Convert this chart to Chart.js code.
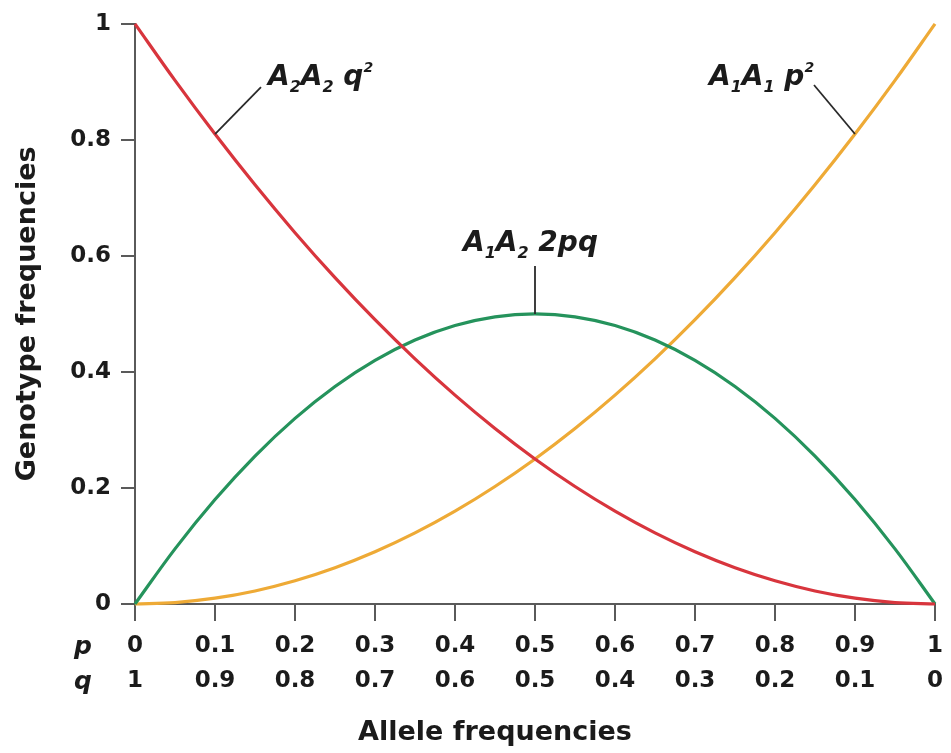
<!DOCTYPE html>
<html>
<head>
<meta charset="utf-8">
<script src="https://cdn.jsdelivr.net/npm/chart.js@4.4.1/dist/chart.umd.min.js"></script>
<style>
  body { margin: 0; background: #fff; }
  #wrap { width: 951px; height: 753px; }
</style>
</head>
<body>
<div id="wrap"><canvas id="chart"></canvas></div>
<script>
// allele frequency p (q = 1 - p)
const pValues = [0, 0.05, 0.1, 0.15, 0.2, 0.25, 0.3, 0.35, 0.4, 0.45, 0.5,
                 0.55, 0.6, 0.65, 0.7, 0.75, 0.8, 0.85, 0.9, 0.95, 1];
// genotype frequencies
const a2a2 = [1, 0.9025, 0.81, 0.7225, 0.64, 0.5625, 0.49, 0.4225, 0.36, 0.3025, 0.25,
              0.2025, 0.16, 0.1225, 0.09, 0.0625, 0.04, 0.0225, 0.01, 0.0025, 0];
const a1a2 = [0, 0.095, 0.18, 0.255, 0.32, 0.375, 0.42, 0.455, 0.48, 0.495, 0.5,
              0.495, 0.48, 0.455, 0.42, 0.375, 0.32, 0.255, 0.18, 0.095, 0];
const a1a1 = [0, 0.0025, 0.01, 0.0225, 0.04, 0.0625, 0.09, 0.1225, 0.16, 0.2025, 0.25,
              0.3025, 0.36, 0.4225, 0.49, 0.5625, 0.64, 0.7225, 0.81, 0.9025, 1];

const pTicks = ["0", "0.1", "0.2", "0.3", "0.4", "0.5", "0.6", "0.7", "0.8", "0.9", "1"];
const qTicks = ["1", "0.9", "0.8", "0.7", "0.6", "0.5", "0.4", "0.3", "0.2", "0.1", "0"];
const yTicks = ["0", "0.2", "0.4", "0.6", "0.8", "1"];

const FONT = '"DejaVu Sans", "Liberation Sans", Arial, sans-serif';
const INK = "#1b1b1b";
const AXIS = "#5a5a5a";

const toPoints = ys => pValues.map((p, i) => ({ x: p, y: ys[i] }));

// curve labels: anchor on a curve (data coords), leader end offset, text offset (px)
const curveLabels = [
  { at: [0.1, 0.81], line: [46, -47], text: [53, -49],
    parts: [["A"], ["2", "sub"], ["A"], ["2", "sub"], [" q"], ["2", "sup"]] },
  { at: [0.5, 0.5], line: [0, -48], text: [-72, -63],
    parts: [["A"], ["1", "sub"], ["A"], ["2", "sub"], [" 2pq"]] },
  { at: [0.9, 0.81], line: [-41, -49], text: [-146, -49],
    parts: [["A"], ["1", "sub"], ["A"], ["1", "sub"], [" p"], ["2", "sup"]] }
];

const annotate = {
  id: "annotate",
  afterDatasetsDraw(chart) {
    const { ctx, scales: { x, y }, chartArea } = chart;
    ctx.save();
    ctx.fillStyle = INK;
    ctx.strokeStyle = "#2a2a2a";
    ctx.lineWidth = 1.8;
    ctx.textBaseline = "alphabetic";
    ctx.textAlign = "left";

    curveLabels.forEach(l => {
      const ax = x.getPixelForValue(l.at[0]);
      const ay = y.getPixelForValue(l.at[1]);
      ctx.beginPath();
      ctx.moveTo(ax, ay);
      ctx.lineTo(ax + l.line[0], ay + l.line[1]);
      ctx.stroke();

      let tx = ax + l.text[0];
      const ty = ay + l.text[1];
      l.parts.forEach(([t, kind]) => {
        if (kind === "sub") {
          ctx.font = "italic bold 16px " + FONT;
          ctx.fillText(t, tx, ty + 7);
        } else if (kind === "sup") {
          ctx.font = "italic bold 14px " + FONT;
          ctx.fillText(t, tx, ty - 13);
        } else {
          ctx.font = "italic bold 28px " + FONT;
          ctx.fillText(t, tx, ty);
        }
        tx += ctx.measureText(t).width;
      });
    });

    // row names for the two tick rows
    ctx.font = "italic bold 25px " + FONT;
    ctx.textAlign = "center";
    ctx.fillText("p", chartArea.left - 52, 654);
    ctx.fillText("q", chartArea.left - 52, 689);

    // x axis title
    ctx.font = "bold 27px " + FONT;
    ctx.fillText("Allele frequencies", x.getPixelForValue(0.45), 740);
    ctx.restore();
  }
};

new Chart(document.getElementById("chart"), {
  type: "line",
  data: {
    datasets: [
      { label: "A2A2 q²", data: toPoints(a2a2), borderColor: "#d8353d" },
      { label: "A1A2 2pq", data: toPoints(a1a2), borderColor: "#25935c" },
      { label: "A1A1 p²", data: toPoints(a1a1), borderColor: "#eeaa36" }
    ].map(d => Object.assign(d, {
      borderWidth: 3.2, pointRadius: 0, tension: 0.35, fill: false, clip: 4
    }))
  },
  options: {
    responsive: true,
    maintainAspectRatio: false,
    animation: false,
    layout: { padding: { top: 22, right: 13, left: 0, bottom: 0 } },
    plugins: { legend: { display: false }, tooltip: { enabled: false } },
    scales: {
      x: {
        type: "linear", min: 0, max: 1,
        afterFit: s => { s.height = 149; },
        border: { color: AXIS, width: 2 },
        grid: { drawOnChartArea: false, color: AXIS, lineWidth: 2, tickLength: 17 },
        ticks: {
          stepSize: 0.1, maxRotation: 0, autoSkip: false, padding: 8,
          color: INK, font: { family: FONT, size: 23, weight: "bold", lineHeight: 1.52 },
          callback: (v, i) => [pTicks[i], qTicks[i]]
        }
      },
      y: {
        min: 0, max: 1,
        afterFit: s => { s.width = 135; },
        border: { color: AXIS, width: 2 },
        grid: { drawOnChartArea: false, color: AXIS, lineWidth: 2, tickLength: 14 },
        ticks: {
          stepSize: 0.2, padding: 10, color: INK,
          font: { family: FONT, size: 23, weight: "bold" },
          callback: (v, i) => yTicks[i]
        },
        title: {
          display: true, text: "Genotype frequencies", color: INK,
          font: { family: FONT, size: 27, weight: "bold" },
          padding: { top: 12, bottom: 0 }
        }
      }
    }
  },
  plugins: [annotate]
});
</script>
</body>
</html>
